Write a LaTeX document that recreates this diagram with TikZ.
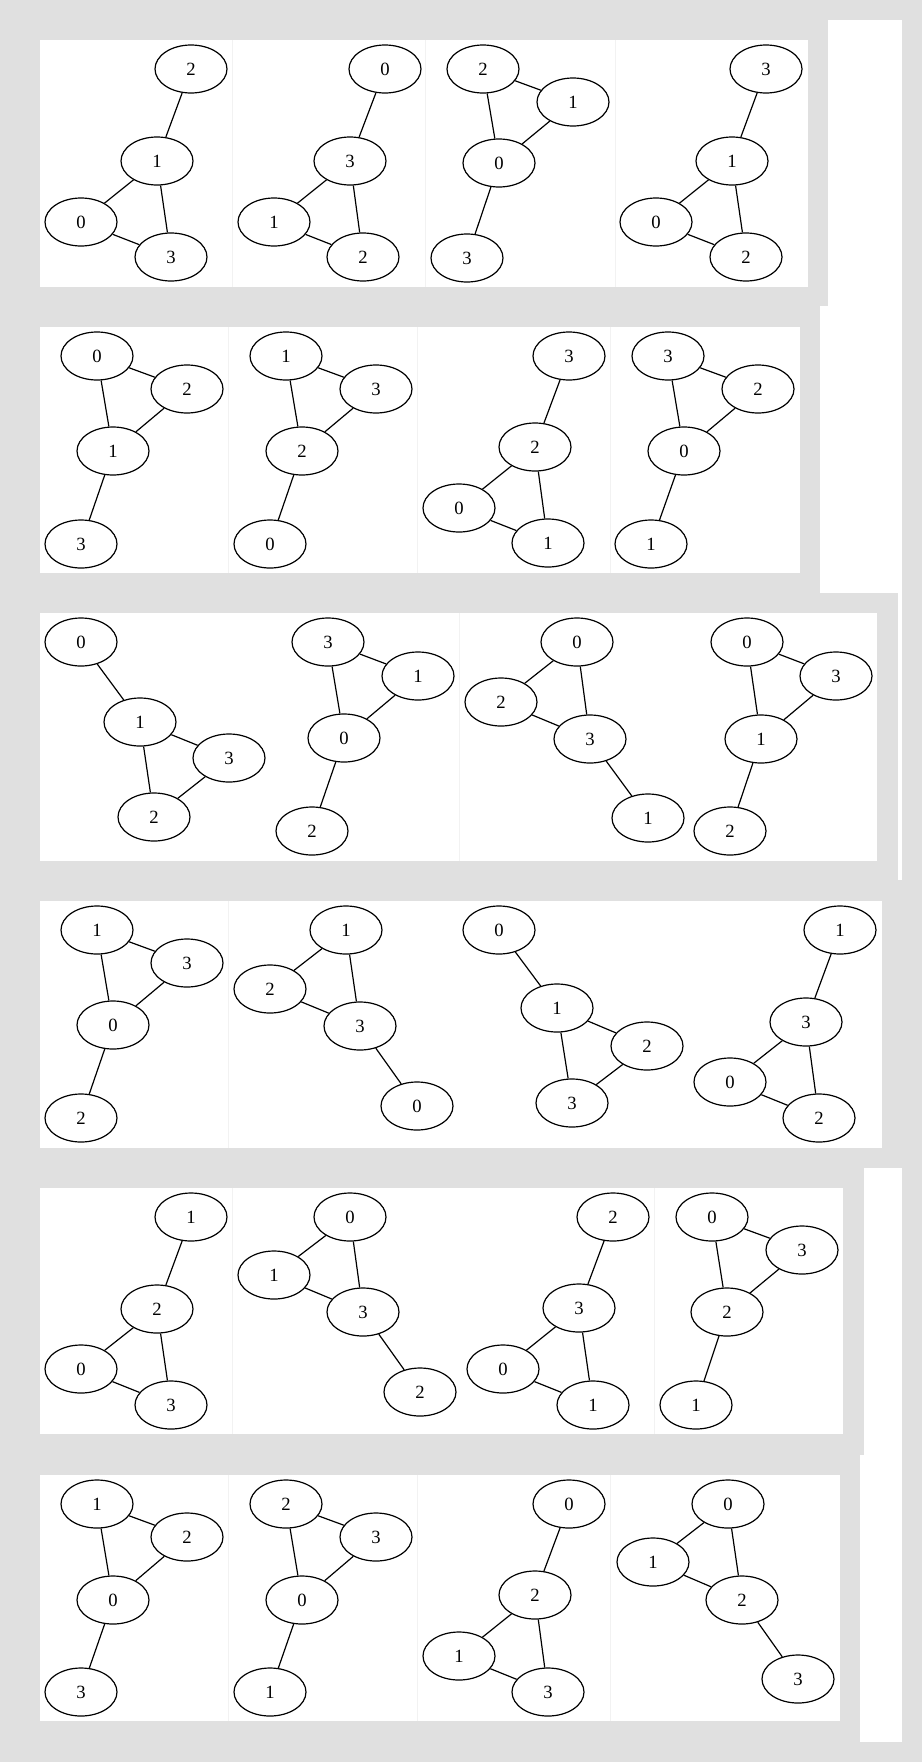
\documentclass[tikz,border=0pt]{standalone}
\usepackage{fontspec}
\setmainfont{Liberation Serif}
\usetikzlibrary{shapes.geometric}
\definecolor{bggray}{RGB}{224,224,224}
\definecolor{sepgray}{RGB}{242,242,242}
\tikzset{
  gnode/.style={draw=black, line width=1.2pt, ellipse, minimum width=72pt, minimum height=48pt, inner sep=0pt, font=\fontsize{18.67}{22}\selectfont},
  gedge/.style={draw=black, line width=1.2pt},
  panel/.style={fill=white, draw=none},
  sep/.style={draw=sepgray, line width=0.8pt}
}
\begin{document}
\begin{tikzpicture}[x=1pt,y=-1pt]
\useasboundingbox[fill=bggray] (0,0) rectangle (922,1762);
% panels and strips
\fill[white] (40,40) rectangle (808,287);
\fill[white] (828,20) rectangle (902,306);
\fill[white] (40,327) rectangle (800,573);
\fill[white] (820,306) rectangle (902,593);
\fill[white] (40,613) rectangle (877,861);
\fill[white] (898,593) rectangle (902,880);
\fill[white] (40,901) rectangle (882,1148);
\fill[white] (40,1188) rectangle (843,1434);
\fill[white] (864,1168) rectangle (902,1455);
\fill[white] (40,1475) rectangle (840,1721);
\fill[white] (860,1455) rectangle (902,1742);
% faint separators
\foreach \sx in {232,425,615} \draw[sep] (\sx,40) -- (\sx,287);
\foreach \sx in {228,417,610} \draw[sep] (\sx,327) -- (\sx,573);
\draw[sep] (459,613) -- (459,861);
\draw[sep] (228,901) -- (228,1148);
\foreach \sx in {232,654} \draw[sep] (\sx,1188) -- (\sx,1434);
\foreach \sx in {228,417,610} \draw[sep] (\sx,1475) -- (\sx,1721);

% ===== Row 1 =====
\node[gnode] (r1a2) at (191,69) {2};
\node[gnode] (r1a1) at (157,161) {1};
\node[gnode] (r1a0) at (81,222) {0};
\node[gnode] (r1a3) at (171,257) {3};
\draw[gedge] (r1a2)--(r1a1) (r1a1)--(r1a0) (r1a1)--(r1a3) (r1a0)--(r1a3);
\node[gnode] (r1b0) at (385,69) {0};
\node[gnode] (r1b3) at (350,161) {3};
\node[gnode] (r1b1) at (274,222) {1};
\node[gnode] (r1b2) at (363,257) {2};
\draw[gedge] (r1b0)--(r1b3) (r1b3)--(r1b1) (r1b3)--(r1b2) (r1b1)--(r1b2);
\node[gnode] (r1c2) at (483,69) {2};
\node[gnode] (r1c1) at (573,102) {1};
\node[gnode] (r1c0) at (499,163) {0};
\node[gnode] (r1c3) at (467,258) {3};
\draw[gedge] (r1c2)--(r1c1) (r1c2)--(r1c0) (r1c1)--(r1c0) (r1c0)--(r1c3);
\node[gnode] (r1d3) at (766,69) {3};
\node[gnode] (r1d1) at (732,161) {1};
\node[gnode] (r1d0) at (656,222) {0};
\node[gnode] (r1d2) at (746,257) {2};
\draw[gedge] (r1d3)--(r1d1) (r1d1)--(r1d0) (r1d1)--(r1d2) (r1d0)--(r1d2);

% ===== Row 2 =====
\node[gnode] (r2a0) at (97,356) {0};
\node[gnode] (r2a2) at (187,389) {2};
\node[gnode] (r2a1) at (113,451) {1};
\node[gnode] (r2a3) at (81,544) {3};
\draw[gedge] (r2a0)--(r2a2) (r2a0)--(r2a1) (r2a2)--(r2a1) (r2a1)--(r2a3);
\node[gnode] (r2b1) at (286,356) {1};
\node[gnode] (r2b3) at (376,389) {3};
\node[gnode] (r2b2) at (302,451) {2};
\node[gnode] (r2b0) at (270,544) {0};
\draw[gedge] (r2b1)--(r2b3) (r2b1)--(r2b2) (r2b3)--(r2b2) (r2b2)--(r2b0);
\node[gnode] (r2c3) at (569,356) {3};
\node[gnode] (r2c2) at (535,447) {2};
\node[gnode] (r2c0) at (459,508) {0};
\node[gnode] (r2c1) at (548,543) {1};
\draw[gedge] (r2c3)--(r2c2) (r2c2)--(r2c0) (r2c2)--(r2c1) (r2c0)--(r2c1);
\node[gnode] (r2d3) at (668,356) {3};
\node[gnode] (r2d2) at (758,389) {2};
\node[gnode] (r2d0) at (684,451) {0};
\node[gnode] (r2d1) at (651,544) {1};
\draw[gedge] (r2d3)--(r2d2) (r2d3)--(r2d0) (r2d2)--(r2d0) (r2d0)--(r2d1);

% ===== Row 3 =====
\node[gnode] (r3a0) at (81,642) {0};
\node[gnode] (r3a1) at (140,722) {1};
\node[gnode] (r3a3) at (229,758) {3};
\node[gnode] (r3a2) at (154,817) {2};
\draw[gedge] (r3a0)--(r3a1) (r3a1)--(r3a3) (r3a1)--(r3a2) (r3a3)--(r3a2);
\node[gnode] (r3b3) at (328,642) {3};
\node[gnode] (r3b1) at (418,676) {1};
\node[gnode] (r3b0) at (344,738) {0};
\node[gnode] (r3b2) at (312,831) {2};
\draw[gedge] (r3b3)--(r3b1) (r3b3)--(r3b0) (r3b1)--(r3b0) (r3b0)--(r3b2);
\node[gnode] (r3c0) at (577,642) {0};
\node[gnode] (r3c2) at (501,702) {2};
\node[gnode] (r3c3) at (590,739) {3};
\node[gnode] (r3c1) at (648,818) {1};
\draw[gedge] (r3c0)--(r3c2) (r3c0)--(r3c3) (r3c2)--(r3c3) (r3c3)--(r3c1);
\node[gnode] (r3d0) at (747,642) {0};
\node[gnode] (r3d3) at (836,676) {3};
\node[gnode] (r3d1) at (761,739) {1};
\node[gnode] (r3d2) at (730,831) {2};
\draw[gedge] (r3d0)--(r3d3) (r3d0)--(r3d1) (r3d3)--(r3d1) (r3d1)--(r3d2);

% ===== Row 4 =====
\node[gnode] (r4a1) at (97,930) {1};
\node[gnode] (r4a3) at (187,963) {3};
\node[gnode] (r4a0) at (113,1025) {0};
\node[gnode] (r4a2) at (81,1118) {2};
\draw[gedge] (r4a1)--(r4a3) (r4a1)--(r4a0) (r4a3)--(r4a0) (r4a0)--(r4a2);
\node[gnode] (r4b1) at (346,930) {1};
\node[gnode] (r4b2) at (270,989) {2};
\node[gnode] (r4b3) at (360,1026) {3};
\node[gnode] (r4b0) at (417,1106) {0};
\draw[gedge] (r4b1)--(r4b2) (r4b1)--(r4b3) (r4b2)--(r4b3) (r4b3)--(r4b0);
\node[gnode] (r4c0) at (499,930) {0};
\node[gnode] (r4c1) at (557,1008) {1};
\node[gnode] (r4c2) at (647,1046) {2};
\node[gnode] (r4c3) at (572,1103) {3};
\draw[gedge] (r4c0)--(r4c1) (r4c1)--(r4c2) (r4c1)--(r4c3) (r4c2)--(r4c3);
\node[gnode] (r4d1) at (840,930) {1};
\node[gnode] (r4d3) at (806,1022) {3};
\node[gnode] (r4d0) at (730,1082) {0};
\node[gnode] (r4d2) at (819,1118) {2};
\draw[gedge] (r4d1)--(r4d3) (r4d3)--(r4d0) (r4d3)--(r4d2) (r4d0)--(r4d2);

% ===== Row 5 =====
\node[gnode] (r5a1) at (191,1217) {1};
\node[gnode] (r5a2) at (157,1309) {2};
\node[gnode] (r5a0) at (81,1369) {0};
\node[gnode] (r5a3) at (171,1405) {3};
\draw[gedge] (r5a1)--(r5a2) (r5a2)--(r5a0) (r5a2)--(r5a3) (r5a0)--(r5a3);
\node[gnode] (r5b0) at (350,1217) {0};
\node[gnode] (r5b1) at (274,1275) {1};
\node[gnode] (r5b3) at (363,1312) {3};
\node[gnode] (r5b2) at (420,1392) {2};
\draw[gedge] (r5b0)--(r5b1) (r5b0)--(r5b3) (r5b1)--(r5b3) (r5b3)--(r5b2);
\node[gnode] (r5c2) at (613,1217) {2};
\node[gnode] (r5c3) at (579,1308) {3};
\node[gnode] (r5c0) at (503,1369) {0};
\node[gnode] (r5c1) at (593,1405) {1};
\draw[gedge] (r5c2)--(r5c3) (r5c3)--(r5c0) (r5c3)--(r5c1) (r5c0)--(r5c1);
\node[gnode] (r5d0) at (712,1217) {0};
\node[gnode] (r5d3) at (802,1250) {3};
\node[gnode] (r5d2) at (727,1312) {2};
\node[gnode] (r5d1) at (696,1405) {1};
\draw[gedge] (r5d0)--(r5d3) (r5d0)--(r5d2) (r5d3)--(r5d2) (r5d2)--(r5d1);

% ===== Row 6 =====
\node[gnode] (r6a1) at (97,1504) {1};
\node[gnode] (r6a2) at (187,1537) {2};
\node[gnode] (r6a0) at (113,1600) {0};
\node[gnode] (r6a3) at (81,1692) {3};
\draw[gedge] (r6a1)--(r6a2) (r6a1)--(r6a0) (r6a2)--(r6a0) (r6a0)--(r6a3);
\node[gnode] (r6b2) at (286,1504) {2};
\node[gnode] (r6b3) at (376,1537) {3};
\node[gnode] (r6b0) at (302,1600) {0};
\node[gnode] (r6b1) at (270,1692) {1};
\draw[gedge] (r6b2)--(r6b3) (r6b2)--(r6b0) (r6b3)--(r6b0) (r6b0)--(r6b1);
\node[gnode] (r6c0) at (569,1504) {0};
\node[gnode] (r6c2) at (535,1595) {2};
\node[gnode] (r6c1) at (459,1656) {1};
\node[gnode] (r6c3) at (548,1692) {3};
\draw[gedge] (r6c0)--(r6c2) (r6c2)--(r6c1) (r6c2)--(r6c3) (r6c1)--(r6c3);
\node[gnode] (r6d0) at (728,1504) {0};
\node[gnode] (r6d1) at (653,1562) {1};
\node[gnode] (r6d2) at (742,1600) {2};
\node[gnode] (r6d3) at (798,1679) {3};
\draw[gedge] (r6d0)--(r6d1) (r6d0)--(r6d2) (r6d1)--(r6d2) (r6d2)--(r6d3);
\end{tikzpicture}
\end{document}
